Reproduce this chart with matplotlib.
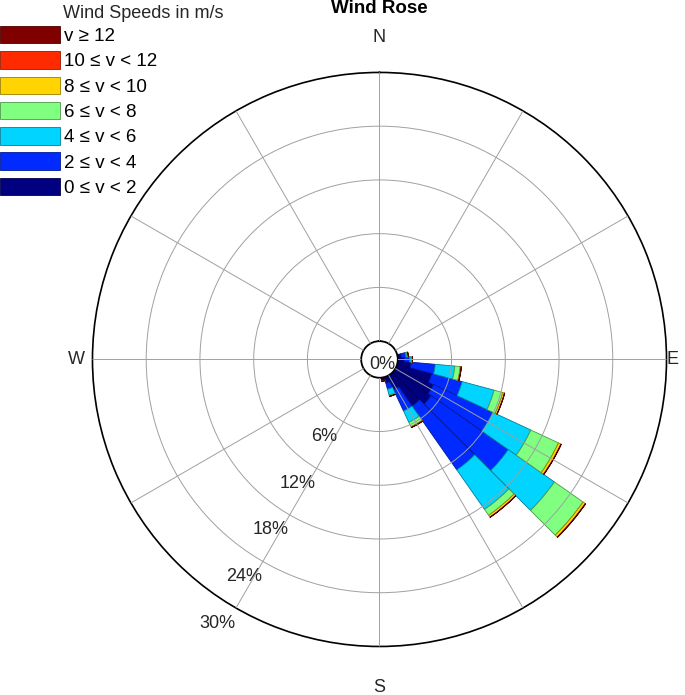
import numpy as np
import matplotlib
matplotlib.use("Agg")
import matplotlib.pyplot as plt

plt.rcParams["font.family"] = ["Liberation Sans", "DejaVu Sans"]

# direction bins (degrees, clockwise from north) and frequency (%) per speed class
directions = [80, 90, 100, 110, 120, 130, 140, 150, 160, 170]
speed_0_2 = [0.4, 0.7, 1.5, 4.0, 4.6, 5.0, 4.3, 1.7, 0.7, 0.3]
speed_2_4 = [0.5, 0.6, 2.7, 3.5, 7.3, 10.5, 8.7, 2.6, 0.7, 0.1]
speed_4_6 = [0.15, 0.2, 2.2, 3.7, 4.7, 6.3, 5.4, 1.4, 0.7, 0.0]
speed_6_8 = [0.1, 0.1, 0.6, 1.0, 3.4, 3.9, 0.8, 0.55, 0.1, 0.0]
speed_8_10 = [0.05, 0.05, 0.1, 0.2, 0.3, 0.3, 0.25, 0.1, 0.03, 0.0]
speed_10_12 = [0.0, 0.0, 0.03, 0.03, 0.05, 0.05, 0.03, 0.0, 0.0, 0.0]
speed_12_up = [0.0] * len(directions)

speed_labels = ["0 \u2264 v < 2", "2 \u2264 v < 4", "4 \u2264 v < 6", "6 \u2264 v < 8",
                "8 \u2264 v < 10", "10 \u2264 v < 12", "v \u2265 12"]
speed_colors = ["#000080", "#002aff", "#00d4ff", "#80ff80", "#ffd400", "#ff2a00", "#800000"]
ring_values = [6, 12, 18, 24, 30]

series = [speed_0_2, speed_2_4, speed_4_6, speed_6_8, speed_8_10, speed_10_12, speed_12_up]

fig = plt.figure(figsize=(6.85, 6.95), dpi=100)
ax = fig.add_axes([0.135, 0.0698, 0.838, 0.826], projection="polar")
ax.set_theta_zero_location("N")
ax.set_theta_direction(-1)
ax.set_ylim(0, 30)
ax.set_rorigin(-2.043)

theta = np.deg2rad(directions)
width = np.deg2rad(10)
bottom = np.zeros(len(directions))
handles = []
for vals, col in zip(series, speed_colors):
    vals = np.array(vals)
    edge = tuple(c * 0.6 for c in matplotlib.colors.to_rgb(col))
    bars = ax.bar(theta, vals, width=width, bottom=bottom, color=col,
                  edgecolor=edge, linewidth=0.6, align="center", zorder=2)
    handles.append(bars)
    bottom = bottom + vals

# grid
ax.set_xticks(np.deg2rad(np.arange(0, 360, 30)))
ax.set_xticklabels([])
ax.set_yticks(ring_values[:-1])
ax.set_yticklabels([])
ax.grid(True, color="#a0a0a0", linewidth=0.7)
ax.set_axisbelow(False)
ax.spines["polar"].set_color("black")
ax.spines["polar"].set_linewidth(1.2)
ax.spines["inner"].set_color("black")
ax.spines["inner"].set_linewidth(1.3)

txt = "#262626"
for v in ring_values:
    ax.annotate(f"{v}%", xy=(np.deg2rad(210), v), xytext=(-19, -15),
                textcoords="offset pixels", ha="center", va="center",
                fontsize=13, color=txt)
ax.text(0.505, 0.492, "0%", transform=ax.transAxes, ha="center", va="center",
        fontsize=13, color=txt)

ax.text(0.5, 1.061, "N", transform=ax.transAxes, ha="center", va="center", fontsize=13, color=txt)
ax.text(0.5, -0.0714, "S", transform=ax.transAxes, ha="center", va="center", fontsize=13, color=txt)
ax.text(1.0096, 0.5, "E", transform=ax.transAxes, ha="center", va="center", fontsize=13, color=txt)
ax.text(-0.0287, 0.5, "W", transform=ax.transAxes, ha="center", va="center", fontsize=13, color=txt)

fig.text(0.554, 0.988, "Wind Rose", ha="center", va="center", fontsize=13.5, fontweight="bold")

fig.legend(handles[::-1], speed_labels[::-1], loc="upper left",
           bbox_to_anchor=(0, 1 - 26 / 695), frameon=False, borderpad=0,
           borderaxespad=0, handlelength=3.2, handleheight=1.05,
           handletextpad=0.2, labelspacing=0.33, fontsize=13.5)
fig.text(63 / 685, 1 - 13.5 / 695, "Wind Speeds in m/s", ha="left", va="center",
         fontsize=13, color="#262626")

fig.savefig("out.png", dpi=100)
